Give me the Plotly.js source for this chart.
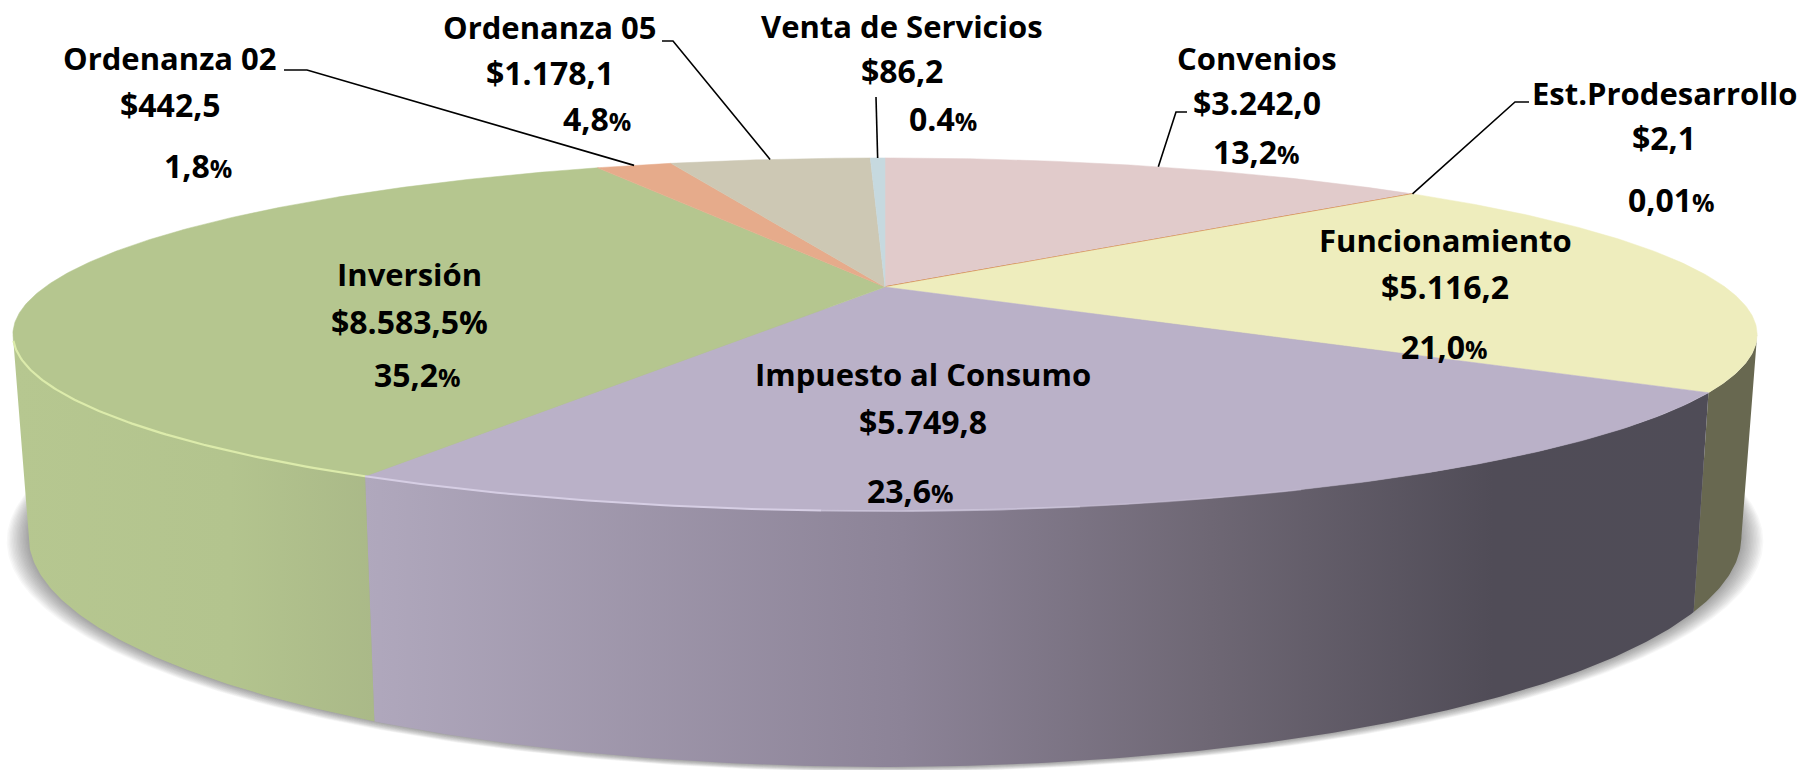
<!DOCTYPE html>
<html><head><meta charset="utf-8">
<script src="https://cdn.plot.ly/plotly-3.0.1.min.js"></script>
<style>html,body{margin:0;padding:0;background:#fff}#c{width:1818px;height:770px}</style>
</head><body><div id="c"></div>
<script>
// ---- data ----
const categories = ["Convenios","Est.Prodesarrollo","Funcionamiento","Impuesto al Consumo","Inversión","Ordenanza 02","Ordenanza 05","Venta de Servicios"];
const amounts = [3242.0,2.1,5116.2,5749.8,8583.5,442.5,1178.1,86.2];
const amountLabels = ["$3.242,0","$2,1","$5.116,2","$5.749,8","$8.583,5%","$442,5","$1.178,1","$86,2"];
const percentLabels = ["13,2","0,01","21,0","23,6","35,2","1,8","4,8","0.4"];

// ---- styles ----
const topColors = ["#e1cbcb","#cd6f2f","#eeedbd","#bab1c8","#b5c68f","#e6ab8b","#cdc8b4","#c6d9df"];
const wallFills = {
  2:{color:"#686850"},
  3:{scale:[[0,"#b0a8bd"],[0.4,"#8c8397"],[0.63,"#6e6774"],[0.84,"#504c57"],[1,"#4f4c57"]]},
  4:{scale:[[0,"#b6c790"],[0.6,"#b3c48e"],[1,"#aab988"]]}
};
// label centres in plot units: [name line, amount line, percent line]
const labelSpots = [
  [[1257,58],[1257,102],[1256,151]],
  [[1664,93],[1664,137],[1671,199]],
  [[1445,240],[1445,286],[1444,346]],
  [[923,374],[923,421],[910,490]],
  [[409,274],[409,321],[417,374]],
  [[170,58],[170,104],[198,165]],
  [[550,27],[550,72],[597,118]],
  [[902,26],[902,70],[943,118]]
];
// leader elbows, from label to slice edge
const leaderElbows = {
  0:[[1187,112],[1176,112]],
  1:[[1529,102],[1515,102]],
  5:[[284,70],[307,70]],
  6:[[662,41],[673,41]],
  7:[[876,97]]
};
const FONT = "'Open Sans', sans-serif";
const NAME_FS = 31, NUM_FS = 32, PCT_SIGN_FS = 25;

// ---- perspective disc ----
const CX=885, CY=287, R=840, A=163.8, K=0.269, DEPTH=187, SHRINK=0.982;
const rad=d=>d*Math.PI/180;
function topPt(phi){const c=Math.sin(rad(phi)),s=-Math.cos(rad(phi)),w=1-K*s;return [CX+R*c/w,CY+A*s/w];}
function lowPt(phi,f=SHRINK,extra=0){const c=Math.sin(rad(phi)),s=-Math.cos(rad(phi)),w=1-K*s;return [CX+f*R*c/w,CY+A*s/w+DEPTH/w+extra];}
function arc(fn,a,b){const n=Math.max(2,Math.ceil(Math.abs(b-a)/0.5));const o=[];for(let i=0;i<=n;i++)o.push(fn(a+(b-a)*i/n));return o;}
const xs=p=>p.map(q=>q[0]), ys=p=>p.map(q=>q[1]);

const total=amounts.reduce((a,b)=>a+b,0);
const bounds=[0];amounts.forEach(v=>bounds.push(bounds[bounds.length-1]+v/total*360));
const VIS_A=Math.acos(-K)*180/Math.PI, VIS_B=360-VIS_A;

const traces=[];
// soft shadow under the disc: stacked faint ellipses, outer to inner
const SHADOW_LAYERS=16;
for(let i=0;i<SHADOW_LAYERS;i++){
  const t=i/(SHADOW_LAYERS-1), f=1.007-0.025*t, e=5-5*t;
  const p=arc(q=>lowPt(q,f,e),0,360);
  traces.push({type:"scatter",mode:"lines",x:xs(p),y:ys(p),fill:"toself",fillcolor:"rgba(50,50,50,0.035)",line:{width:0},hoverinfo:"skip",showlegend:false});
}
// walls
amounts.forEach((v,i)=>{
  const a=Math.max(bounds[i],VIS_A), b=Math.min(bounds[i+1],VIS_B);
  if(b<=a) return;
  const p=arc(topPt,a,b).concat(arc(q=>lowPt(q),b,a));
  p.push(p[0]);
  const st=wallFills[i]||{color:topColors[i]};
  const t={type:"scatter",mode:"lines",x:xs(p),y:ys(p),fill:"toself",line:{width:0},hoverinfo:"skip",showlegend:false};
  if(st.scale){t.fillgradient={type:"horizontal",colorscale:st.scale};}
  else {t.fillcolor=st.color;}
  traces.push(t);
});
// top face slices
amounts.forEach((v,i)=>{
  const p=[[CX,CY]].concat(arc(topPt,bounds[i],bounds[i+1]));p.push([CX,CY]);
  traces.push({type:"scatter",mode:"lines",x:xs(p),y:ys(p),fill:"toself",fillcolor:topColors[i],
    line:{color:topColors[i],width:i===1?1.4:0.5},
    text:categories[i]+": "+amountLabels[i],hoverinfo:"text",showlegend:false});
});
// bright rim along the front edge, fading out on the purple slice
[[VIS_B-2,bounds[4],"rgba(220,235,171,1)",2.2],
 [bounds[4],bounds[4]-25,"rgba(214,206,228,1)",2],
 [bounds[4]-25,bounds[4]-38,"rgba(214,206,228,0.6)",1.8],
 [bounds[4]-38,bounds[4]-50,"rgba(214,206,228,0.3)",1.6]].forEach(([a,b,col,wd])=>{
  const p=arc(topPt,a,b);
  traces.push({type:"scatter",mode:"lines",x:xs(p),y:ys(p),line:{color:col,width:wd},hoverinfo:"skip",showlegend:false});
});
// leaders
Object.keys(leaderElbows).forEach(k=>{
  const i=+k,e=topPt((bounds[i]+bounds[i+1])/2),p=leaderElbows[k].concat([e]);
  traces.push({type:"scatter",mode:"lines",x:xs(p),y:ys(p),line:{color:"#000",width:1.6},hoverinfo:"skip",showlegend:false});
});

const annotations=[];
categories.forEach((name,i)=>{
  const pct=percentLabels[i]+'<span style="font-size:'+PCT_SIGN_FS+'px">%</span>';
  [[name,NAME_FS],[amountLabels[i],NUM_FS],[pct,NUM_FS]].forEach(([t,fs],j)=>{
    annotations.push({xref:"x",yref:"y",x:labelSpots[i][j][0],y:labelSpots[i][j][1],text:"<b>"+t+"</b>",showarrow:false,
      xanchor:"center",yanchor:"middle",font:{family:FONT,size:fs,color:"#000"}});
  });
});

const layout={width:1818,height:770,margin:{l:0,r:0,t:0,b:0},paper_bgcolor:"#fff",plot_bgcolor:"#fff",showlegend:false,
  xaxis:{range:[0,1818],visible:false,fixedrange:true},
  yaxis:{range:[770,0],visible:false,fixedrange:true},
  annotations};
Plotly.newPlot("c",traces,layout,{displayModeBar:false,responsive:false});
</script></body></html>
